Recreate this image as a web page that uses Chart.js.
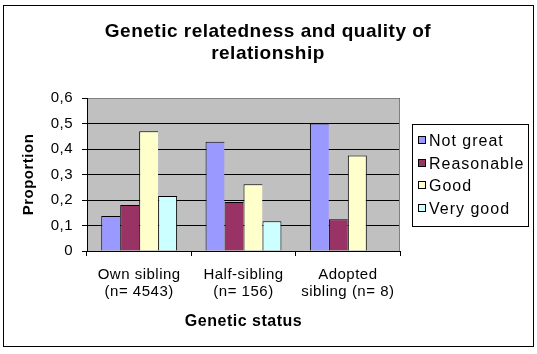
<!DOCTYPE html>
<html>
<head>
<meta charset="utf-8">
<script src="https://cdn.jsdelivr.net/npm/chart.js@4.4.0/dist/chart.umd.min.js"></script>
<style>
html, body { margin: 0; padding: 0; background: #fff; }
canvas { display: block; }
</style>
</head>
<body>
<canvas id="grafico" width="537" height="354"></canvas>
<script>
// datos del grafico
var categorias = [['Own sibling', '(n= 4543)'], ['Half-sibling', '(n= 156)'], ['Adopted', 'sibling (n= 8)']];
var series = ['Not great', 'Reasonable', 'Good', 'Very good'];
var notGreat = [0.137, 0.428, 0.5];
var reasonable = [0.18, 0.192, 0.125];
var good = [0.47, 0.262, 0.375];
var veryGood = [0.216, 0.117, null];
var yTicks = [0, 0.1, 0.2, 0.3, 0.4, 0.5, 0.6];
var colores = ['#9999FF', '#993366', '#FFFFCC', '#CCFFFF'];

var fuente = '"Liberation Sans", Arial, sans-serif';
var titulo = ['Genetic relatedness and quality of', 'relationship'];

var valores = [notGreat, reasonable, good, veryGood];

// las barras contiguas comparten la linea de borde
function bordeBarra(ctx) {
    var di = ctx.datasetIndex;
    var siguiente = di < valores.length - 1 && valores[di + 1][ctx.dataIndex] != null;
    return { left: 1, top: 1, right: siguiente ? 0 : 1, bottom: 0 };
}

var datasets = series.map(function (nombre, i) {
    return {
        label: nombre,
        data: valores[i],
        backgroundColor: colores[i],
        borderColor: '#000',
        borderWidth: bordeBarra,
        barPercentage: 1,
        categoryPercentage: 4 / 5.5
    };
});

// fondo, borde, titulo y leyenda
var decorado = {
    id: 'decorado',
    beforeDraw: function (chart) {
        var ctx = chart.ctx;
        var a = chart.chartArea;
        ctx.save();
        ctx.fillStyle = '#fff';
        ctx.fillRect(0, 0, chart.width, chart.height);
        ctx.fillStyle = '#C0C0C0';
        ctx.fillRect(a.left, a.top, a.right - a.left, a.bottom - a.top);
        ctx.restore();
        ctx.letterSpacing = '0.5px';
    },
    afterDatasetsDraw: function (chart) {
        var ctx = chart.ctx;
        var a = chart.chartArea;
        var r = Math.round(a.right) - 0.5;
        var t = Math.round(a.top) + 0.5;
        ctx.save();
        ctx.strokeStyle = '#808080';
        ctx.lineWidth = 1;
        ctx.beginPath();
        ctx.moveTo(a.left + 1, t);
        ctx.lineTo(r, t);
        ctx.lineTo(r, a.bottom);
        ctx.stroke();
        ctx.restore();
    },
    afterDraw: function (chart) {
        var ctx = chart.ctx;
        ctx.save();
        ctx.strokeStyle = '#000';
        ctx.lineWidth = 1;
        ctx.strokeRect(3.5, 5.5, 530, 341);

        // titulo
        ctx.fillStyle = '#000';
        ctx.textAlign = 'center';
        ctx.textBaseline = 'alphabetic';
        ctx.letterSpacing = '0.5px';
        ctx.font = 'bold 19px ' + fuente;
        ctx.fillText(titulo[0], 268, 37);
        ctx.fillText(titulo[1], 268, 59);

        // leyenda
        ctx.strokeRect(412.5, 124.5, 116, 102);
        ctx.textAlign = 'left';
        ctx.font = '16px ' + fuente;
        ctx.letterSpacing = '1px';
        series.forEach(function (nombre, i) {
            var base = Math.round(146 + i * 22.7);
            ctx.fillStyle = colores[i];
            ctx.fillRect(418, base - 10, 8, 8);
            ctx.strokeRect(418.5, base - 9.5, 7, 7);
            ctx.fillStyle = '#000';
            ctx.fillText(nombre, 429, base);
        });
        ctx.restore();
    }
};

var grafico = new Chart(document.getElementById('grafico').getContext('2d'), {
    type: 'bar',
    data: { labels: categorias, datasets: datasets },
    options: {
        responsive: false,
        animation: false,
        layout: { padding: { left: 0, top: 98, right: 137, bottom: 0 } },
        plugins: {
            legend: { display: false },
            title: { display: false },
            tooltip: { enabled: false }
        },
        scales: {
            x: {
                afterFit: function (scale) { scale.height = 103; },
                grid: { display: true, offset: true, drawOnChartArea: false, color: '#000', tickLength: 5 },
                border: { display: true, color: '#000' },
                ticks: {
                    color: '#000', padding: 10, maxRotation: 0, autoSkip: false,
                    font: { family: fuente, size: 15, lineHeight: 17 / 15 }
                },
                title: {
                    display: true, text: 'Genetic status', color: '#000',
                    font: { family: fuente, size: 16, weight: 'bold' },
                    padding: { top: 0, bottom: 23 }
                }
            },
            y: {
                min: 0,
                max: 0.6,
                afterFit: function (scale) { scale.width = 87; },
                afterBuildTicks: function (scale) {
                    scale.ticks = yTicks.map(function (v) { return { value: v }; });
                },
                grid: { color: '#000', tickLength: 5 },
                border: { display: true, color: '#000' },
                ticks: {
                    color: '#000', padding: 9,
                    font: { family: fuente, size: 15 },
                    callback: function (v) { return v === 0 ? '0' : v.toFixed(1).replace('.', ','); }
                },
                title: {
                    display: true, text: 'Proportion', color: '#000',
                    font: { family: fuente, size: 15, weight: 'bold' },
                    padding: { top: 20, bottom: 0 }
                }
            }
        }
    },
    plugins: [decorado]
});
</script>
</body>
</html>
